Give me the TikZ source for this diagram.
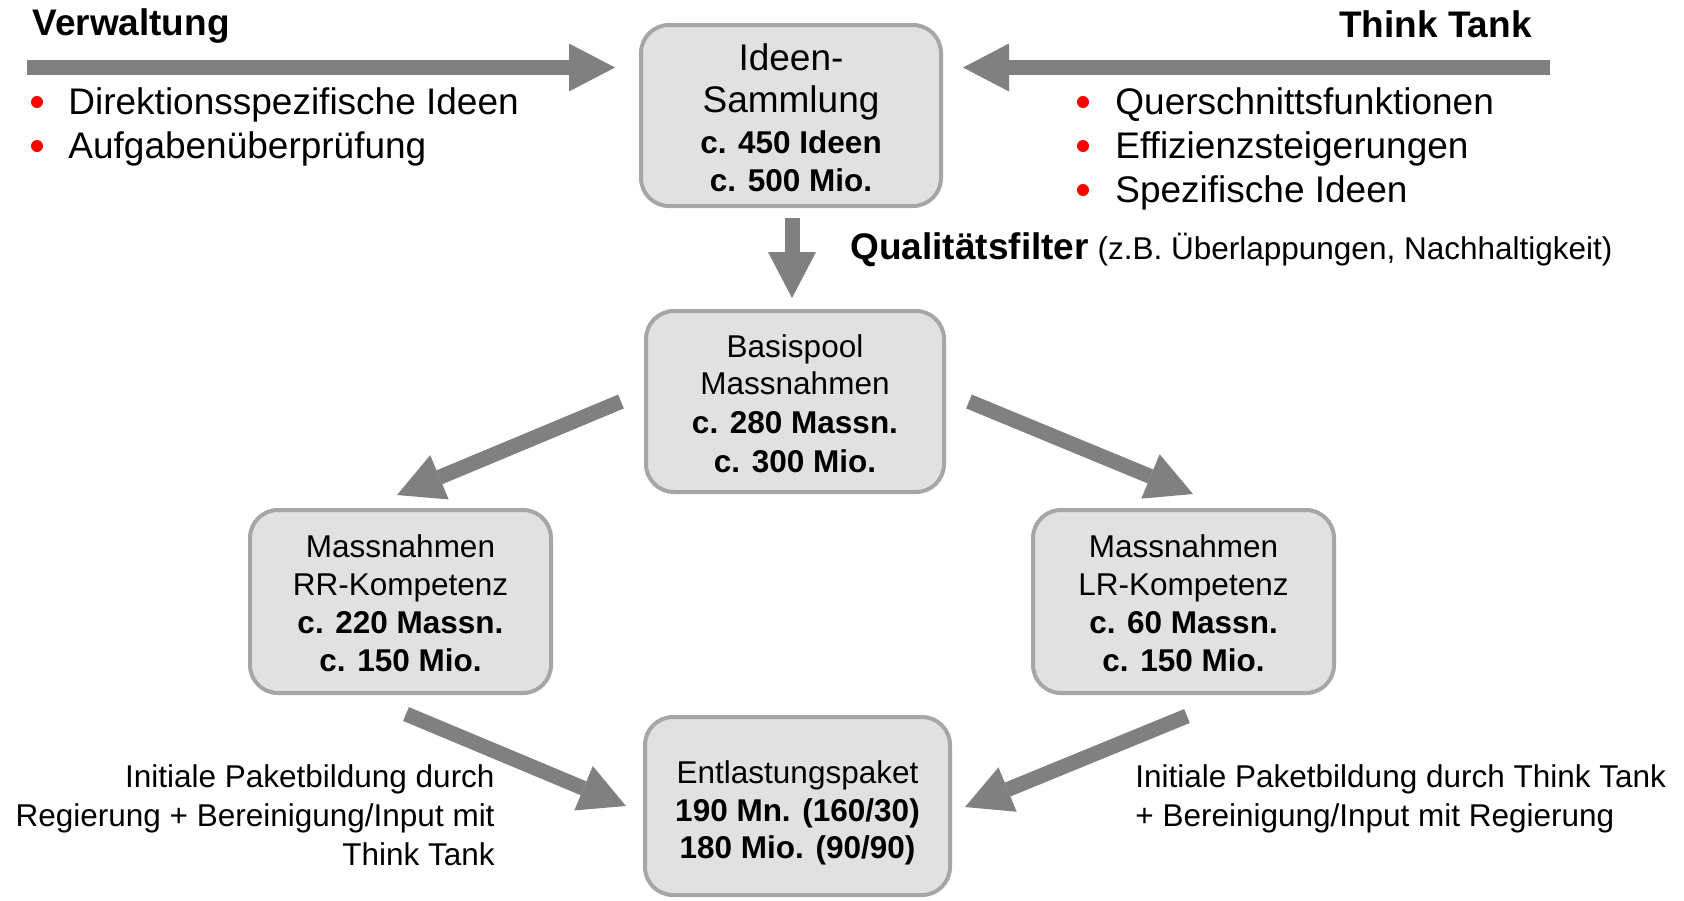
\documentclass[tikz,border=0pt]{standalone}
\usepackage{fontspec}
\setmainfont{Liberation Sans}
\usetikzlibrary{arrows.meta,calc}
\definecolor{arrowgray}{HTML}{808080}
\definecolor{boxfill}{HTML}{E1E1E1}
\definecolor{boxline}{HTML}{A6A6A6}
\definecolor{bulletred}{HTML}{FF0000}
\begin{document}
\begin{tikzpicture}[x=0.5pt,y=-0.5pt,
  box/.style={draw=boxline, fill=boxfill, line width=2pt, rounded corners=14pt, inner sep=0pt},
  bigarrow/.style={draw=arrowgray, line width=7.5pt, -{Triangle[length=23pt,width=24pt,line width=0pt]}},
  txt/.style={inner sep=0pt, anchor=base, font=\fontsize{15.75}{19}\selectfont},
  btxt/.style={inner sep=0pt, anchor=base, font=\fontsize{15.75}{19}\selectfont\bfseries},
  bigtxt/.style={inner sep=0pt, font=\fontsize{18.5}{22}\selectfont},
  bigbold/.style={inner sep=0pt, font=\fontsize{18.5}{22}\selectfont\bfseries},
  dot/.style={circle, fill=bulletred, inner sep=0pt, minimum size=6pt}
]
\useasboundingbox (0,0) rectangle (1684,900);

% boxes
\node[box, minimum width=150pt, minimum height=90.5pt] (ideen) at (791,115.5) {};
\node[box, minimum width=149pt, minimum height=90.5pt] (basis) at (795,401.5) {};
\node[box, minimum width=150.5pt, minimum height=91.5pt] (rr) at (400.5,601.5) {};
\node[box, minimum width=150.5pt, minimum height=91.5pt] (lr) at (1183.5,601.5) {};
\node[box, minimum width=152.5pt, minimum height=89pt] (ent) at (797.5,806) {};

% box texts
\node[bigtxt, anchor=base] (ideen1) at (791,70) {Ideen-};
\node[bigtxt, anchor=base] (ideen2) at (791,112) {Sammlung};
\node[btxt] (ideen3) at (791,153) {c. 450 Ideen};
\node[btxt] (ideen4) at (791,191) {c. 500 Mio.};

\node[txt] (basis1) at (795,357) {Basispool};
\node[txt] (basis2) at (795,394) {Massnahmen};
\node[btxt] (basis3) at (795,433) {c. 280 Massn.};
\node[btxt] (basis4) at (795,472) {c. 300 Mio.};

\node[txt] (rr1) at (400.5,557) {Massnahmen};
\node[txt] (rr2) at (400.5,595) {RR-Kompetenz};
\node[btxt] (rr3) at (400.5,633) {c. 220 Massn.};
\node[btxt] (rr4) at (400.5,671) {c. 150 Mio.};

\node[txt] (lr1) at (1183.5,557) {Massnahmen};
\node[txt] (lr2) at (1183.5,595) {LR-Kompetenz};
\node[btxt] (lr3) at (1183.5,633) {c. 60 Massn.};
\node[btxt] (lr4) at (1183.5,671) {c. 150 Mio.};

\node[txt] (ent1) at (797.5,783) {Entlastungspaket};
\node[btxt] (ent2) at (797.5,821) {190 Mn. (160/30)};
\node[btxt] (ent3) at (797.5,858) {180 Mio. (90/90)};

% headings
\node[bigbold, anchor=base west] (verw) at (32,35) {Verwaltung};
\node[bigbold, anchor=base east] (think) at (1532,37) {Think Tank};

% bullets left
\node[dot] (dl1) at (37,102) {};
\node[bigtxt, anchor=base west] (bl1) at (68,114) {Direktionsspezifische Ideen};
\node[dot] (dl2) at (37,146) {};
\node[bigtxt, anchor=base west] (bl2) at (68,158) {Aufgabenüberprüfung};

% bullets right
\node[dot] (dr1) at (1083,102) {};
\node[bigtxt, anchor=base west] (br1) at (1115,114) {Querschnittsfunktionen};
\node[dot] (dr2) at (1083,146) {};
\node[bigtxt, anchor=base west] (br2) at (1115,158) {Effizienzsteigerungen};
\node[dot] (dr3) at (1083,190) {};
\node[bigtxt, anchor=base west] (br3) at (1115,202) {Spezifische Ideen};

% filter label
\node[inner sep=0pt, anchor=base west] (qf) at (850,259) {\fontsize{18.5}{22}\selectfont\bfseries Qualitätsfilter\fontsize{15.75}{19}\selectfont\mdseries\ (z.B. Überlappungen, Nachhaltigkeit)};

% bottom texts
\node[txt, anchor=base east] (ll1) at (495,787) {Initiale Paketbildung durch};
\node[txt, anchor=base east] (ll2) at (495,826) {Regierung + Bereinigung/Input mit};
\node[txt, anchor=base east] (ll3) at (495,865) {Think Tank};
\node[txt, anchor=base west] (rl1) at (1135,787) {Initiale Paketbildung durch Think Tank};
\node[txt, anchor=base west] (rl2) at (1135,826) {+ Bereinigung/Input mit Regierung};

% arrows
\coordinate (vw0) at (27,67.5);
\coordinate (tt0) at (1550,67.5);
\draw[bigarrow] (vw0) -- ($(ideen.west |- vw0)+(-24,0)$);
\draw[bigarrow] (tt0) -- ($(ideen.east |- tt0)+(20,0)$);
\draw[bigarrow] ($(ideen.south)+(1,10)$) -- ($(basis.north -| ideen.south)+(1,-11)$);
\draw[bigarrow] ($(basis.west)+(-23,0)$) -- ($(rr.north)+(-3.5,-13)$);
\draw[bigarrow] ($(basis.east)+(23,0)$) -- ($(lr.north)+(9.5,-14)$);
\draw[bigarrow] ($(rr.south)+(5.5,19)$) -- ($(ent.west)+(-17,0)$);
\draw[bigarrow] ($(lr.south)+(3.5,21)$) -- ($(ent.east)+(13,1)$);
\end{tikzpicture}
\end{document}
